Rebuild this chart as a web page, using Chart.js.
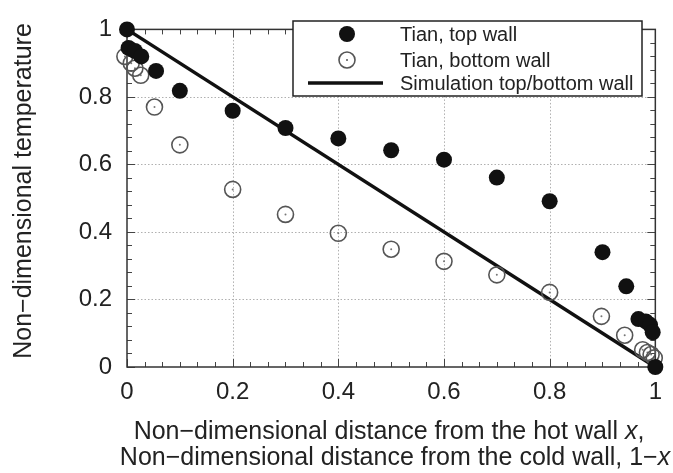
<!DOCTYPE html>
<html>
<head>
<meta charset="utf-8">
<title>Non-dimensional temperature</title>
<script src="https://cdn.jsdelivr.net/npm/chart.js@4.4.1/dist/chart.umd.min.js"></script>
<style>
    html, body { margin: 0; padding: 0; background: #fff; }
    #wrap { width: 673px; height: 473px; }
</style>
</head>
<body>
<div id="wrap"><canvas id="tempChart" width="673" height="473"></canvas></div>
<script>
// Tian, top wall
const topX = [0, 0.003, 0.015, 0.027, 0.055, 0.1, 0.2, 0.3, 0.4, 0.5, 0.6, 0.7, 0.8, 0.9, 0.945, 0.968, 0.982, 0.99, 0.995, 1.0];
const topY = [1.0, 0.945, 0.936, 0.92, 0.877, 0.818, 0.759, 0.708, 0.677, 0.642, 0.614, 0.561, 0.491, 0.34, 0.239, 0.142, 0.135, 0.125, 0.103, 0.0];

// Tian, bottom wall
const bottomX = [-0.004, 0.008, 0.015, 0.026, 0.052, 0.1, 0.2, 0.3, 0.4, 0.5, 0.6, 0.7, 0.8, 0.898, 0.942, 0.976, 0.985, 0.992, 0.998];
const bottomY = [0.92, 0.9, 0.885, 0.864, 0.77, 0.658, 0.526, 0.452, 0.396, 0.349, 0.313, 0.273, 0.221, 0.15, 0.094, 0.051, 0.043, 0.037, 0.027];

// Simulation top/bottom wall
const simX = [0, 1];
const simY = [1, 0];

// 刻度标签
const xTickLabels = ['0', '0.2', '0.4', '0.6', '0.8', '1'];
const yTickLabels = ['0', '0.2', '0.4', '0.6', '0.8', '1'];

const legendLabels = ['Tian, top wall', 'Tian, bottom wall', 'Simulation top/bottom wall'];

const FONT = '"Liberation Sans", Arial, Helvetica, sans-serif';
const INK = '#222';

function toPoints(xs, ys) {
    return xs.map((x, i) => ({ x: x, y: ys[i] }));
}

// 边框, 网格线和小刻度
const framePlugin = {
    id: 'frame',
    beforeDatasetsDraw(chart) {
        const ctx = chart.ctx;
        const a = chart.chartArea;
        const xs = chart.scales.x;
        const ys = chart.scales.y;
        ctx.save();

        // dotted grid at major ticks
        ctx.strokeStyle = '#b0b0b0';
        ctx.lineWidth = 1;
        ctx.setLineDash([1.5, 2]);
        for (let k = 1; k < 5; k++) {
            const px = Math.round(xs.getPixelForValue(k * 0.2)) + 0.5;
            ctx.beginPath();
            ctx.moveTo(px, a.top);
            ctx.lineTo(px, a.bottom);
            ctx.stroke();
            const py = Math.round(ys.getPixelForValue(k * 0.2)) + 0.5;
            ctx.beginPath();
            ctx.moveTo(a.left, py);
            ctx.lineTo(a.right, py);
            ctx.stroke();
        }
        ctx.setLineDash([]);

        // ticks on all four sides, pointing inwards
        ctx.strokeStyle = '#444';
        ctx.lineWidth = 1;
        for (let k = 0; k <= 30; k++) {
            const len = k % 6 === 0 ? 8 : 5;
            const px = Math.round(xs.getPixelForValue(k / 30)) + 0.5;
            ctx.beginPath();
            ctx.moveTo(px, a.bottom);
            ctx.lineTo(px, a.bottom - len);
            ctx.moveTo(px, a.top);
            ctx.lineTo(px, a.top + len);
            ctx.stroke();
        }
        for (let k = 0; k <= 25; k++) {
            const len = k % 5 === 0 ? 8 : 5;
            const py = Math.round(ys.getPixelForValue(k / 25)) + 0.5;
            ctx.beginPath();
            ctx.moveTo(a.left, py);
            ctx.lineTo(a.left + len, py);
            ctx.moveTo(a.right, py);
            ctx.lineTo(a.right - len, py);
            ctx.stroke();
        }

        // box
        ctx.strokeStyle = '#333';
        ctx.lineWidth = 1.5;
        ctx.strokeRect(a.left, a.top, a.right - a.left, a.bottom - a.top);
        ctx.restore();
    }
};

// 画一行文字, 其中部分为斜体
function drawMixedLine(ctx, parts, cx, cy, size) {
    let total = 0;
    parts.forEach(p => {
        ctx.font = (p.italic ? 'italic ' : '') + size + 'px ' + FONT;
        p.w = ctx.measureText(p.text).width;
        total += p.w;
    });
    let x = cx - total / 2;
    parts.forEach(p => {
        ctx.font = (p.italic ? 'italic ' : '') + size + 'px ' + FONT;
        ctx.fillText(p.text, x, cy);
        x += p.w;
    });
}

// 坐标轴标题和图例
const labelPlugin = {
    id: 'labels',
    afterDraw(chart) {
        const ctx = chart.ctx;
        const ds = chart.data.datasets;
        ctx.save();
        ctx.fillStyle = INK;
        ctx.textAlign = 'left';
        ctx.textBaseline = 'middle';

        drawMixedLine(ctx, [
            { text: 'Non\u2212dimensional distance from the hot wall ' },
            { text: 'x', italic: true },
            { text: ',' }
        ], 389, 432, 25);
        drawMixedLine(ctx, [
            { text: 'Non\u2212dimensional distance from the cold wall, 1\u2212' },
            { text: 'x', italic: true }
        ], 395, 458, 25);

        ctx.save();
        ctx.translate(24, 191);
        ctx.rotate(-Math.PI / 2);
        ctx.textAlign = 'center';
        ctx.font = '25px ' + FONT;
        ctx.fillText('Non\u2212dimensional temperature', 0, 0);
        ctx.restore();

        // legend box
        const bx = 293, by = 21, bw = 349, bh = 75;
        ctx.fillStyle = '#fff';
        ctx.fillRect(bx, by, bw, bh);
        ctx.strokeStyle = '#222';
        ctx.lineWidth = 1.5;
        ctx.strokeRect(bx, by, bw, bh);

        const rows = [34, 60, 83];
        const sx = 347;
        // filled marker
        ctx.beginPath();
        ctx.arc(sx, rows[0], ds[0].pointRadius, 0, Math.PI * 2);
        ctx.fillStyle = ds[0].backgroundColor;
        ctx.fill();
        // open marker with centre dot
        ctx.beginPath();
        ctx.arc(sx, rows[1], ds[1].pointRadius, 0, Math.PI * 2);
        ctx.strokeStyle = ds[1].borderColor;
        ctx.lineWidth = ds[1].borderWidth;
        ctx.stroke();
        ctx.beginPath();
        ctx.arc(sx, rows[1], 1, 0, Math.PI * 2);
        ctx.fillStyle = ds[1].borderColor;
        ctx.fill();
        // line
        ctx.beginPath();
        ctx.moveTo(308, rows[2]);
        ctx.lineTo(383, rows[2]);
        ctx.strokeStyle = ds[3].borderColor;
        ctx.lineWidth = ds[3].borderWidth;
        ctx.stroke();

        ctx.fillStyle = INK;
        ctx.font = '20px ' + FONT;
        legendLabels.forEach((t, i) => ctx.fillText(t, 400, rows[i] + 1));
        ctx.restore();
    }
};

function initTempChart() {
    const ctx = document.getElementById('tempChart').getContext('2d');
    new Chart(ctx, {
        type: 'scatter',
        data: {
            datasets: [{
                label: legendLabels[0],
                data: toPoints(topX, topY),
                pointRadius: 8,
                pointHoverRadius: 8,
                backgroundColor: '#111',
                borderColor: '#111',
                borderWidth: 0,
                order: 1
            }, {
                label: legendLabels[1],
                data: toPoints(bottomX, bottomY),
                pointRadius: 8,
                pointHoverRadius: 8,
                backgroundColor: 'rgba(0,0,0,0)',
                borderColor: '#555',
                borderWidth: 1.6,
                order: 2
            }, {
                // centre dots of the open markers
                label: 'dots',
                data: toPoints(bottomX, bottomY),
                pointRadius: 1,
                backgroundColor: '#777',
                borderWidth: 0,
                order: 2
            }, {
                label: legendLabels[2],
                data: toPoints(simX, simY),
                showLine: true,
                pointRadius: 0,
                borderColor: '#111',
                borderWidth: 3.5,
                order: 3
            }]
        },
        options: {
            responsive: false,
            animation: false,
            devicePixelRatio: 1,
            clip: false,
            layout: { padding: { top: 14, right: 17, left: 0, bottom: 0 } },
            plugins: {
                legend: { display: false },
                tooltip: { enabled: false }
            },
            scales: {
                x: {
                    type: 'linear',
                    min: 0,
                    max: 1,
                    grid: { display: false, drawTicks: false },
                    border: { display: false },
                    ticks: {
                        stepSize: 0.2,
                        padding: 11,
                        color: INK,
                        font: { family: FONT, size: 24 },
                        maxRotation: 0,
                        callback: (v, i) => xTickLabels[i]
                    },
                    afterFit: scale => { scale.height = 106; }
                },
                y: {
                    type: 'linear',
                    min: 0,
                    max: 1,
                    grid: { display: false, drawTicks: false },
                    border: { display: false },
                    ticks: {
                        stepSize: 0.2,
                        padding: 15,
                        color: INK,
                        font: { family: FONT, size: 24 },
                        callback: (v, i) => yTickLabels[i]
                    },
                    afterFit: scale => { scale.width = 127; }
                }
            }
        },
        plugins: [framePlugin, labelPlugin]
    });
}

document.addEventListener('DOMContentLoaded', function() {
    initTempChart();
});
</script>
</body>
</html>
